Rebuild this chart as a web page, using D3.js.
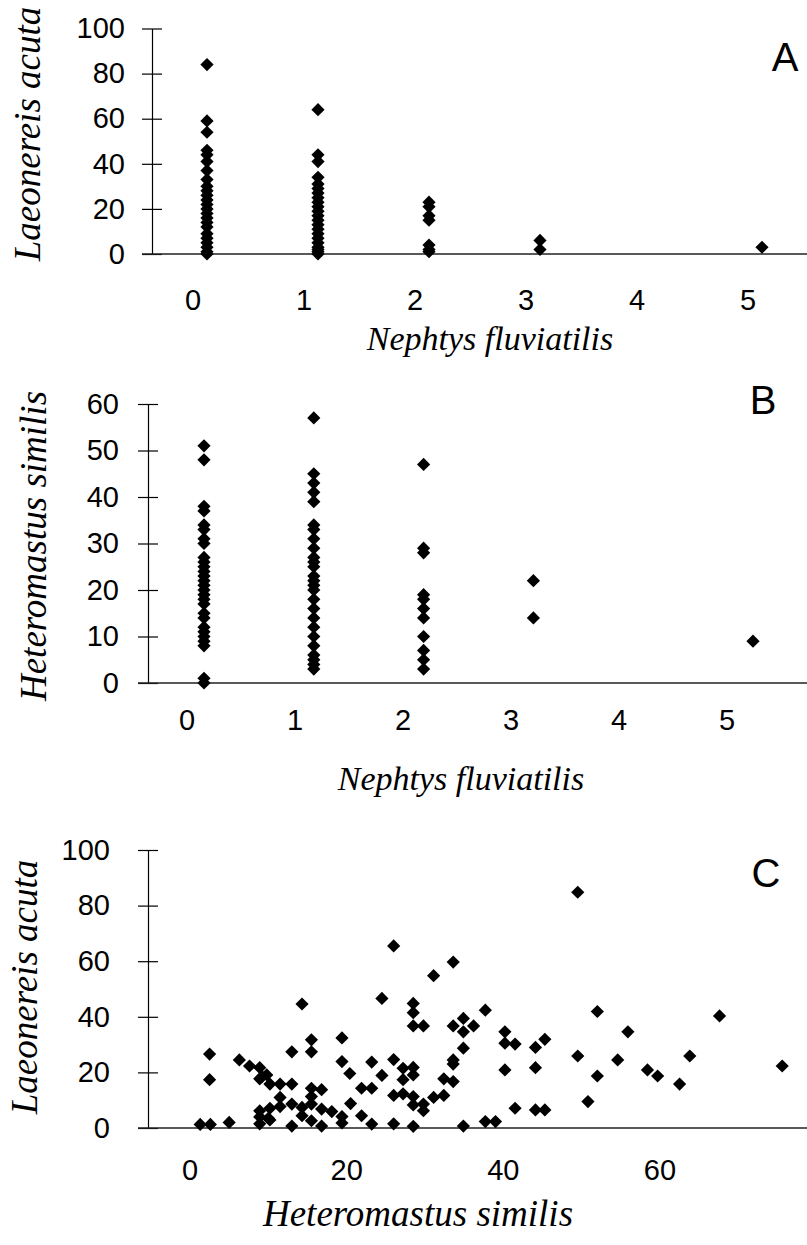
<!DOCTYPE html>
<html><head><meta charset="utf-8">
<script src="https://cdn.jsdelivr.net/npm/d3@7"></script>
<style>body{margin:0;background:#fff} svg{display:block}</style>
</head><body>
<svg id="chart" width="807" height="1245"></svg>
<script>
// ---------- DATA ----------
const nephtysLevels = [0, 1, 2, 3, 5];
const nephtysTicks = [0, 1, 2, 3, 4, 5];
const laeoTicks = [0, 20, 40, 60, 80, 100];
const heteroTicks = [0, 10, 20, 30, 40, 50, 60];
const heteroTicksC = [0, 20, 40, 60];

// Panel A: Laeonereis acuta for each Nephtys fluviatilis level
const laeoN0 = [84, 59, 54, 46, 44, 41, 37, 33, 30, 28, 26, 24, 22, 20, 18, 16, 14, 12, 9, 7, 5, 3, 1, 0];
const laeoN1 = [64, 44, 41, 34, 31, 29, 27, 25, 23, 21, 19, 17, 15, 13, 11, 9, 7, 5, 3, 2, 1, 0];
const laeoN2 = [23, 21, 17, 15, 4, 2, 1];
const laeoN3 = [6, 2];
const laeoN5 = [3];

// Panel B: Heteromastus similis for each Nephtys fluviatilis level
const hetN0 = [51, 48, 38, 37, 34, 33, 31, 30, 27, 26, 25, 24, 23, 22, 21, 20, 19, 18, 17, 15, 14, 12, 11, 10, 9, 8, 1, 0];
const hetN1 = [57, 45, 43, 41, 39, 34, 33, 31, 29, 27, 26, 25, 23, 22, 21, 20, 18, 16, 14, 12, 10, 8, 6, 5, 4, 3];
const hetN2 = [47, 29, 28, 19, 18, 16, 14, 10, 7, 5, 3];
const hetN3 = [22, 14];
const hetN5 = [9];

// Panel C: Heteromastus similis (x) vs Laeonereis acuta (y)
const hetC = [1.3, 2.6, 2.5, 2.5, 5.0, 6.3, 7.6, 8.9, 8.9, 9.8, 8.9, 8.9, 10.2, 11.5, 13.0, 13.0, 14.3, 15.5, 15.5, 10.2,
  10.0, 11.5, 11.5, 13.0, 14.3, 14.3, 13.0, 15.5, 16.8, 15.5, 15.5, 16.8, 18.1, 15.5, 16.8, 19.4, 19.4, 20.4, 19.4, 19.4,
  20.5, 21.9, 23.2, 21.9, 23.2, 23.2, 24.5, 24.5, 26.0, 26.0, 26.0, 26.0, 27.2, 27.2, 27.2, 28.5, 28.5, 28.5, 29.8, 28.5,
  28.5, 28.5, 28.5, 28.5, 29.8, 29.8, 31.1, 31.1, 32.4, 32.4, 33.6, 33.6, 33.6, 34.9, 36.2, 34.9, 34.9, 33.6, 33.6, 34.9,
  37.7, 37.7, 39.0, 40.2, 40.2, 41.5, 40.2, 41.5, 44.1, 45.3, 44.1, 44.1, 45.3, 49.5, 52.0, 67.6, 55.9, 49.5, 54.6, 63.8,
  75.6, 52.0, 58.4, 59.7, 62.5, 50.8, 10.2, 8.9, 9.2];
const laeoC = [1.3, 1.3, 26.6, 17.4, 2.0, 24.5, 22.3, 21.7, 17.7, 19.1, 6.2, 1.5, 15.8, 15.8, 15.8, 27.4, 44.6, 31.7, 27.4, 7.1,
  3.5, 11.0, 7.7, 8.6, 7.4, 4.4, 0.7, 14.3, 13.8, 11.3, 8.6, 6.8, 5.9, 2.6, 0.7, 32.4, 23.9, 19.6, 4.1, 1.8,
  8.8, 14.3, 14.3, 4.4, 1.4, 23.7, 46.6, 18.9, 65.5, 24.6, 11.7, 1.5, 21.5, 17.4, 12.3, 44.8, 41.5, 36.7, 36.7, 21.8,
  19.1, 11.3, 8.3, 0.6, 8.6, 6.2, 54.8, 11.0, 11.7, 17.7, 16.7, 59.7, 36.7, 39.4, 36.7, 34.6, 28.7, 24.5, 23.0, 0.7,
  42.4, 2.3, 2.3, 34.6, 30.5, 30.2, 20.9, 7.1, 29.0, 31.9, 21.7, 6.5, 6.5, 84.8, 41.9, 40.3, 34.6, 25.9, 24.5, 25.9,
  22.3, 18.7, 20.9, 18.7, 15.8, 9.5, 2.9, 4.0, 18.5];

// ---------- DRAWING ----------
const svg = d3.select("#chart");
const W = 807;
const SANS = "'Liberation Sans', Arial, sans-serif";
const SERIF = "'Liberation Serif', 'Times New Roman', serif";

const diamond = {
  draw(ctx, size) {
    const r = Math.sqrt(size / 2);
    ctx.moveTo(0, -r); ctx.lineTo(r, 0); ctx.lineTo(0, r); ctx.lineTo(-r, 0); ctx.closePath();
  }
};
const diamondPath = d3.symbol().type(diamond).size(2 * 6.6 * 6.6)();

function drawPanel(p) {
  const g = svg.append("g");
  // y axis
  const yAxis = d3.axisLeft(p.y).tickValues(p.yTicks).tickSize(10).tickSizeOuter(0).tickPadding(p.yPad);
  const ga = g.append("g").attr("transform", `translate(${p.axisX},0)`).call(yAxis);
  ga.select(".domain").attr("stroke", "#000").attr("stroke-width", 1.2);
  ga.selectAll(".tick line").attr("x1", 10).attr("stroke", "#000").attr("stroke-width", 1.2);
  ga.selectAll(".tick text").attr("font-family", SANS).attr("font-size", 29).attr("fill", "#000");

  // x axis line
  const y0 = p.y(0);
  g.append("line").attr("x1", p.axisX - 10).attr("x2", W).attr("y1", y0).attr("y2", y0)
    .attr("stroke", "#222").attr("stroke-width", 1.6);

  // x tick labels
  g.selectAll(".xl").data(p.xTicks).enter().append("text")
    .attr("x", d => p.xLab(d)).attr("y", p.xLabY)
    .attr("text-anchor", "middle").attr("font-family", SANS).attr("font-size", 29)
    .text(d => d);

  // points
  g.selectAll(".pt").data(p.points).enter().append("path")
    .attr("d", diamondPath)
    .attr("transform", d => `translate(${p.x(d[0])},${p.y(d[1])})`)
    .attr("fill", "#000");

  // titles
  g.append("text").attr("x", p.titleX).attr("y", p.titleY).attr("text-anchor", "middle")
    .attr("font-family", SERIF).attr("font-style", "italic").attr("font-size", p.titleSize).text(p.xTitle);
  g.append("text").attr("transform", `translate(${p.yTitleX},${p.yTitleY}) rotate(-90)`)
    .attr("text-anchor", "middle").attr("font-family", SERIF).attr("font-style", "italic")
    .attr("font-size", p.yTitleSize).text(p.yTitle);
  g.append("text").attr("x", p.letterX).attr("y", p.letterY).attr("text-anchor", "middle")
    .attr("font-family", SANS).attr("font-size", 40).text(p.letter);
}

function columnPoints(levels, cols) {
  const pts = [];
  levels.forEach((lv, i) => cols[i].forEach(v => pts.push([lv, v])));
  return pts;
}

// Panel A
drawPanel({
  x: d3.scaleLinear().domain([0, 5]).range([207, 762]),
  xLab: d3.scaleLinear().domain([0, 5]).range([193, 748]),
  y: d3.scaleLinear().domain([0, 100]).range([254, 28.5]),
  axisX: 152, yPad: 17, yTicks: laeoTicks, xTicks: nephtysTicks, xLabY: 310,
  points: columnPoints(nephtysLevels, [laeoN0, laeoN1, laeoN2, laeoN3, laeoN5]),
  xTitle: "Nephtys fluviatilis", titleX: 490, titleY: 350, titleSize: 34,
  yTitle: "Laeonereis acuta", yTitleX: 40, yTitleY: 134, yTitleSize: 37,
  letter: "A", letterX: 785, letterY: 71
});

// Panel B
drawPanel({
  x: d3.scaleLinear().domain([0, 5]).range([204, 753]),
  xLab: d3.scaleLinear().domain([0, 5]).range([187, 727]),
  y: d3.scaleLinear().domain([0, 60]).range([683, 404]),
  axisX: 148, yPad: 19, yTicks: heteroTicks, xTicks: nephtysTicks, xLabY: 730,
  points: columnPoints(nephtysLevels, [hetN0, hetN1, hetN2, hetN3, hetN5]),
  xTitle: "Nephtys fluviatilis", titleX: 461, titleY: 790, titleSize: 34,
  yTitle: "Heteromastus similis", yTitleX: 46, yTitleY: 546, yTitleSize: 37,
  letter: "B", letterX: 763, letterY: 414
});

// Panel C
drawPanel({
  x: d3.scaleLinear().domain([0, 60]).range([190, 660]),
  xLab: d3.scaleLinear().domain([0, 60]).range([190, 660]),
  y: d3.scaleLinear().domain([0, 100]).range([1128, 850]),
  axisX: 148, yPad: 28, yTicks: laeoTicks, xTicks: heteroTicksC, xLabY: 1180,
  points: hetC.map((h, i) => [h, laeoC[i]]),
  xTitle: "Heteromastus similis", titleX: 418, titleY: 1226, titleSize: 37,
  yTitle: "Laeonereis acuta", yTitleX: 37, yTitleY: 987, yTitleSize: 37,
  letter: "C", letterX: 766, letterY: 887
});
</script>
</body></html>
